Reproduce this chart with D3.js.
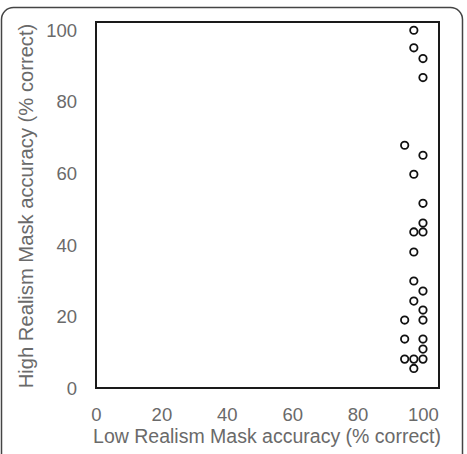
<!DOCTYPE html>
<html>
<head>
<meta charset="utf-8">
<script src="https://cdn.jsdelivr.net/npm/d3@7"></script>
<style>
  body { margin: 0; background: #fff; }
  text { font-family: "Liberation Sans", Arial, Helvetica, sans-serif; fill: #6a6a6a; }
</style>
</head>
<body>
<svg id="chart" width="467" height="454"></svg>
<script>
// mask accuracy per participant (% correct)
var lowRealism  = [97.2, 97.2, 100, 100, 94.4, 100, 97.2, 100, 100, 97.2, 100, 97.2, 97.2,
                   100, 97.2, 100, 100, 94.4, 94.4, 100, 100, 94.4, 97.2, 100, 97.2]
var highRealism = [100, 95.1, 92.1, 86.8, 67.9, 65.1, 59.8, 51.7, 46.2, 43.7, 43.7, 38.1, 30,
                   27.2, 24.4, 21.9, 19.1, 19.1, 13.8, 13.8, 11, 8.2, 8.2, 8.2, 5.6]
var tickValues = [0, 20, 40, 60, 80, 100]

var points = lowRealism.map((d, i) => ({x: d, y: highRealism[i]}))

var svg = d3.select("#chart")

var plotL = 96, plotR = 439, plotT = 22, plotB = 388

// frame sits a little past 100 on both axes
var x = d3.scaleLinear().domain([0, 104.9]).range([plotL, plotR])
var y = d3.scaleLinear().domain([0, 102.3]).range([plotB + 0.5, plotT])

// outer rounded border
svg.append("rect")
  .attr("x", 1.5).attr("y", 7.5)
  .attr("width", 461).attr("height", 470)
  .attr("rx", 12)
  .attr("fill", "none")
  .attr("stroke", "#444")
  .attr("stroke-width", 1.5)

var xAxis = svg.append("g")
  .attr("transform", `translate(0,${plotB})`)
  .call(d3.axisBottom(x).tickValues(tickValues).tickSize(0).tickPadding(20))
xAxis.select(".domain").remove()

var yAxis = svg.append("g")
  .attr("transform", `translate(${plotL},0)`)
  .call(d3.axisLeft(y).tickValues(tickValues).tickSize(0).tickPadding(19))
yAxis.select(".domain").remove()

svg.selectAll(".tick text")
  .attr("font-size", "18.5px")
  .attr("font-family", null)
  .attr("fill", "#6a6a6a")

// plot frame
svg.append("rect")
  .attr("x", plotL).attr("y", plotT)
  .attr("width", plotR - plotL).attr("height", plotB - plotT)
  .attr("fill", "none")
  .attr("stroke", "#1a1a1a")
  .attr("stroke-width", 2)

svg.append("g")
  .selectAll("circle")
  .data(points)
  .join("circle")
    .attr("cx", d => x(d.x))
    .attr("cy", d => y(d.y))
    .attr("r", 3.7)
    .attr("fill", "none")
    .attr("stroke", "#111")
    .attr("stroke-width", 1.8)

svg.append("text")
  .attr("x", 267).attr("y", 443)
  .attr("text-anchor", "middle")
  .attr("font-size", "19.5px")
  .text("Low Realism Mask accuracy (% correct)")

svg.append("text")
  .attr("transform", "translate(33,206) rotate(-90)")
  .attr("text-anchor", "middle")
  .attr("font-size", "20.2px")
  .text("High Realism Mask accuracy (% correct)")
</script>
</body>
</html>
